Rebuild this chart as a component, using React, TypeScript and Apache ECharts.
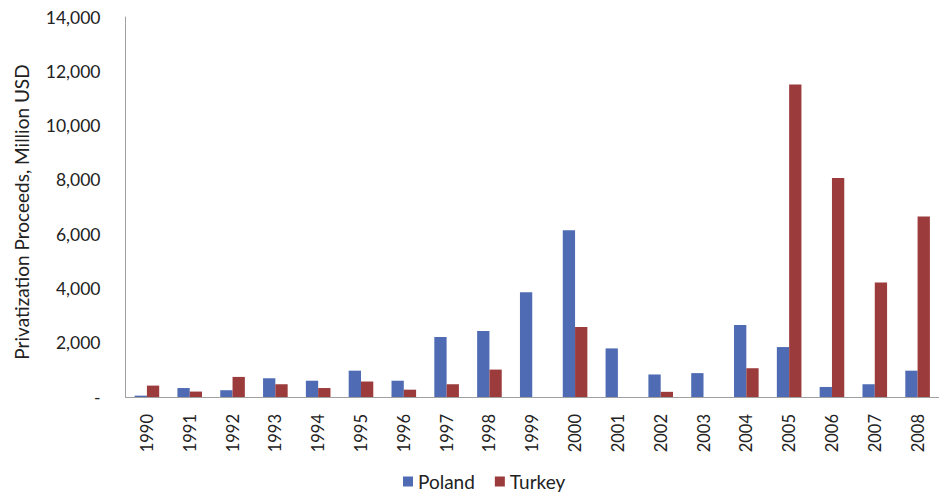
import React, { useEffect, useRef } from "react";
import * as echarts from "echarts";

const years = ["1990","1991","1992","1993","1994","1995","1996","1997","1998","1999","2000","2001","2002","2003","2004","2005","2006","2007","2008"];
const poland = [50, 330, 250, 690, 600, 970, 600, 2210, 2430, 3860, 6140, 1790, 830, 880, 2650, 1840, 370, 470, 970];
const turkey = [420, 200, 740, 470, 330, 570, 270, 470, 1010, 0, 2580, 0, 190, 0, 1060, 11510, 8070, 4220, 6650];
const yTicks = [0, 2000, 4000, 6000, 8000, 10000, 12000, 14000];
const yTitle = "Privatization Proceeds, Million USD";

const FONT = "Lato, 'Open Sans', sans-serif";

export default function App() {
  const ref = useRef<HTMLDivElement>(null);
  useEffect(() => {
    if (!ref.current) return;
    const chart = echarts.init(ref.current, undefined, { renderer: "svg" });
    chart.setOption({
      animation: false,
      backgroundColor: "#ffffff",
      textStyle: { fontFamily: FONT },
      grid: { left: 125.5, top: 17, width: 823, height: 380, containLabel: false },
      legend: {
        left: 398,
        bottom: 0,
        itemWidth: 10,
        itemHeight: 10,
        itemGap: 20,
        icon: "rect",
        textStyle: { fontSize: 19, color: "#222", fontFamily: FONT },
        data: ["Poland", "Turkey"],
      },
      graphic: [
        {
          type: "text",
          x: 21,
          y: 212,
          rotation: Math.PI / 2,
          style: {
            text: yTitle,
            fontSize: 19,
            fontFamily: FONT,
            fill: "#222",
            align: "center",
            verticalAlign: "middle",
          },
        },
      ],
      xAxis: {
        type: "category",
        data: years,
        axisLine: { lineStyle: { color: "#a0a0a0", width: 1 } },
        axisTick: { show: false },
        axisLabel: { rotate: 90, fontSize: 16.5, color: "#222", margin: 17, fontFamily: FONT },
      },
      yAxis: {
        type: "value",
        min: 0,
        max: 14000,
        interval: 2000,
        axisLine: { show: true, lineStyle: { color: "#a0a0a0", width: 1 } },
        axisTick: { show: false },
        splitLine: { show: false },
        axisLabel: {
          fontSize: 17.5,
          color: "#222",
          margin: 25,
          fontFamily: FONT,
          formatter: (v: number) => (v === 0 ? "-" : v.toLocaleString("en-US")),
          customValues: yTicks,
        },
      },
      series: [
        {
          name: "Poland",
          type: "bar",
          data: poland,
          barWidth: 12.3,
          barGap: "0%",
          itemStyle: { color: "#4e6bb4" },
        },
        {
          name: "Turkey",
          type: "bar",
          data: turkey,
          barWidth: 12.3,
          barGap: "0%",
          itemStyle: { color: "#9b3b3b" },
        },
      ],
    });
    return () => chart.dispose();
  }, []);
  return <div ref={ref} style={{ width: 939, height: 496, position: "absolute", left: 0, top: 0 }} />;
}
